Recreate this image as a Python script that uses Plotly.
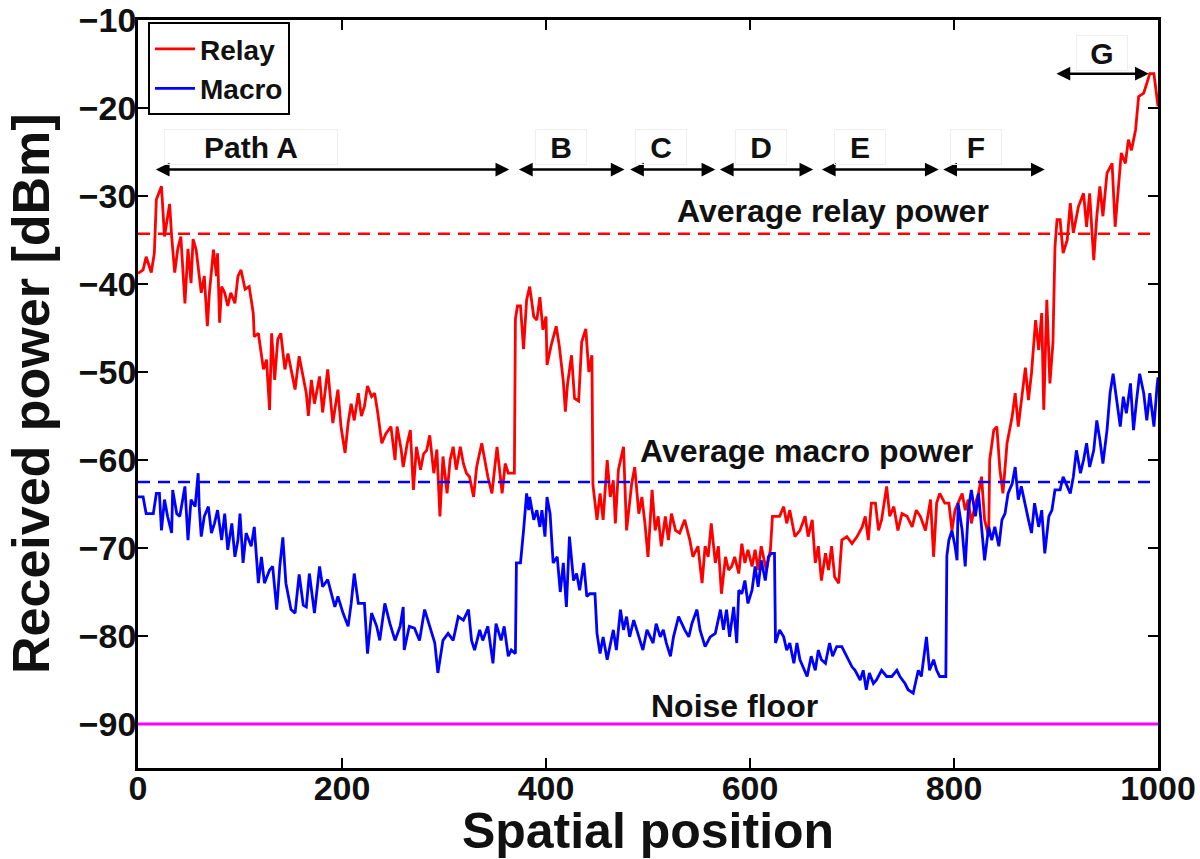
import plotly.graph_objects as go

# ---------------- data ----------------
relay_x = [0,5,8,13,16,18,23,26,31,33,
           36,39,42,46,49,52,54,57,62,65,
           68,70,74,77,78,80,82,85,88,91,
           95,98,101,105,109,113,114,118,123,126,
           129,131,134,137,140,144,147,150,154,158,
           162,165,167,170,173,178,181,186,191,196,
           199,203,206,209,212,216,219,222,225,229,
           232,235,239,243,248,252,254,258,260,264,
           267,270,273,277,280,283,286,290,293,296,
           299,303,306,309,312,316,319,322,325,329,
           332,337,340,343,347,352,357,360,363,369,
           370,372,375,378,381,384,388,391,394,397,
           400,401,405,410,413,417,419,421,425,428,
           432,435,439,442,445,446,450,453,456,460,
           463,466,468,471,476,479,484,487,491,494,
           497,500,504,507,510,513,517,520,523,527,
           531,536,541,544,549,553,556,559,562,566,
           569,572,576,579,582,585,589,592,595,598,
           602,605,608,611,616,620,622,629,633,636,
           639,644,649,654,657,661,664,667,670,674,
           677,680,683,687,690,695,700,705,710,713,
           716,719,723,726,729,734,737,741,745,749,
           754,759,763,767,772,777,780,783,786,791,
           795,798,801,804,808,811,814,817,821,824,
           827,830,834,835,839,842,845,848,852,857,
           860,863,866,870,873,876,880,883,886,888,
           891,894,897,899,901,904,907,911,914,917,
           922,927,930,933,937,940,943,946,950,955,
           958,961,964,968,971,974,978,981,986,989,
           992,996,999,1000]
relay_y = [-38.8,-38.4,-36.9,-38.7,-36.5,-30.4,-28.9,-34.6,-30.9,-34.6,
           -38.7,-36.0,-34.6,-42.2,-36.0,-39.9,-34.9,-36.1,-41.0,-39.1,
           -44.8,-41.0,-36.1,-39.1,-36.5,-44.4,-40.3,-41.0,-42.5,-41.0,
           -42.2,-39.1,-38.4,-40.6,-40.3,-43.3,-46.0,-45.6,-49.7,-48.6,
           -54.3,-45.6,-50.9,-46.3,-45.6,-49.7,-47.9,-49.7,-52.0,-48.2,
           -50.5,-52.4,-55.0,-50.9,-53.6,-50.5,-54.6,-49.7,-55.8,-52.0,
           -56.2,-59.2,-55.8,-53.6,-55.5,-52.4,-55.0,-53.9,-51.6,-52.8,
           -52.4,-54.6,-58.1,-57.0,-56.2,-60.0,-56.2,-58.8,-60.8,-58.1,
           -56.6,-63.4,-58.5,-61.1,-59.3,-58.9,-57.2,-61.5,-58.8,-66.4,
           -59.6,-63.8,-60.0,-58.5,-61.1,-58.5,-60.4,-61.5,-61.9,-64.2,
           -60.8,-58.1,-60.0,-61.9,-63.8,-58.5,-63.8,-60.4,-61.5,-61.5,
           -44.0,-42.5,-42.5,-47.4,-41.8,-40.3,-43.7,-44.1,-41.5,-45.2,
           -43.7,-49.2,-47.0,-44.8,-47.0,-51.1,-54.5,-51.5,-48.1,-53.0,
           -53.3,-46.6,-45.1,-50.0,-48.1,-62.8,-66.8,-63.8,-66.8,-60.0,
           -64.2,-62.3,-67.2,-61.1,-58.5,-68.0,-62.7,-60.8,-66.1,-64.2,
           -67.2,-71.0,-63.4,-68.0,-66.4,-69.8,-66.4,-69.1,-66.1,-68.0,
           -68.3,-66.8,-69.1,-71.0,-69.8,-74.0,-69.8,-71.0,-67.2,-71.7,
           -69.8,-75.2,-71.0,-72.5,-72.1,-71.0,-72.9,-69.5,-71.7,-70.2,
           -72.1,-70.2,-72.5,-69.8,-72.5,-70.2,-66.4,-66.4,-65.3,-67.2,
           -65.7,-68.7,-68.0,-66.4,-68.7,-66.8,-71.7,-69.8,-73.7,-70.6,
           -72.5,-69.8,-73.3,-74.0,-69.1,-68.7,-69.5,-68.7,-67.6,-66.4,
           -69.1,-64.9,-64.9,-68.0,-66.8,-63.0,-66.4,-65.3,-68.0,-66.1,
           -66.4,-67.6,-65.7,-66.4,-68.0,-64.5,-71.0,-64.9,-63.8,-64.9,
           -64.9,-68.0,-65.7,-64.9,-63.8,-65.7,-64.5,-67.2,-64.9,-63.8,
           -61.9,-66.8,-68.7,-60.0,-56.6,-56.2,-61.1,-63.8,-58.1,-55.1,
           -52.4,-56.2,-53.6,-49.5,-53.2,-50.1,-44.1,-47.5,-43.3,-54.3,
           -41.8,-51.3,-46.7,-35.8,-32.7,-32.7,-36.5,-35.0,-30.8,-34.2,
           -31.2,-29.7,-33.5,-29.7,-37.3,-32.3,-28.9,-32.3,-27.4,-26.3,
           -33.5,-28.9,-25.1,-26.3,-23.6,-24.8,-22.5,-18.7,-18.3,-17.2,
           -16.1,-16.1,-19.1,-19.8]

macro_x = [0,5,8,15,18,21,23,26,29,33,
           34,38,41,46,49,52,56,59,60,62,
           65,69,72,75,78,82,85,88,92,95,
           98,100,103,106,111,114,118,121,124,129,
           132,136,139,142,145,150,154,158,162,165,
           168,173,178,181,186,190,193,196,201,206,
           209,212,216,222,225,229,234,237,242,247,
           252,257,260,261,266,271,276,281,286,291,
           294,299,304,309,314,319,324,327,330,335,
           338,343,348,351,356,359,363,366,370,371,
           375,376,378,381,383,384,388,391,394,396,
           399,401,404,407,411,414,417,420,423,427,
           430,433,437,440,443,448,450,453,456,460,
           463,466,469,473,476,479,482,486,489,492,
           495,499,502,505,508,512,515,518,522,525,
           530,533,536,540,543,548,551,556,561,566,
           571,574,577,580,584,587,589,592,595,598,
           602,605,608,611,615,618,621,624,625,629,
           633,636,639,643,646,649,652,656,660,664,
           667,670,674,678,681,685,690,695,700,703,
           708,711,714,717,721,724,729,734,739,744,
           747,752,755,760,765,768,773,776,780,783,
           786,792,793,795,798,801,803,804,808,811,
           814,817,821,824,827,830,834,837,840,844,
           847,850,853,857,860,863,866,870,873,876,
           879,883,886,889,893,896,899,904,907,911,
           914,917,920,924,927,930,933,937,940,943,
           946,950,953,956,960,963,966,969,973,976,
           979,982,986,989,992,996,999,1000]
macro_y = [-64.2,-64.2,-66.1,-66.1,-63.8,-63.8,-68.0,-64.5,-66.4,-68.3,
           -63.4,-66.1,-66.4,-63.0,-69.1,-64.5,-65.3,-61.5,-65.3,-68.7,
           -66.4,-65.3,-68.3,-67.2,-65.7,-69.1,-66.1,-70.2,-67.2,-71.0,
           -69.1,-66.1,-71.7,-68.3,-69.8,-67.6,-74.0,-71.0,-74.0,-72.5,
           -72.1,-77.0,-72.1,-68.8,-74.0,-77.0,-77.4,-73.0,-76.5,-76.7,
           -72.9,-77.4,-72.1,-74.4,-73.6,-75.5,-76.7,-75.5,-77.4,-78.9,
           -76.3,-72.9,-76.3,-76.3,-82.0,-77.4,-78.9,-80.5,-76.3,-78.6,
           -80.5,-78.9,-76.7,-81.6,-78.9,-79.1,-80.5,-77.0,-78.9,-80.8,
           -84.2,-80.5,-79.7,-80.5,-77.8,-78.2,-77.0,-80.5,-81.6,-79.3,
           -80.5,-78.9,-83.1,-78.6,-80.5,-78.9,-82.3,-81.6,-82.0,-71.7,
           -71.7,-70.6,-68.0,-63.8,-65.7,-64.2,-66.8,-65.7,-67.6,-65.7,
           -68.7,-64.2,-66.1,-71.7,-71.0,-75.0,-71.7,-76.7,-68.7,-73.7,
           -72.9,-74.8,-71.7,-75.5,-75.2,-75.2,-79.7,-82.0,-80.1,-82.7,
           -80.8,-79.3,-81.6,-77.0,-79.3,-77.8,-80.1,-78.2,-79.3,-80.5,
           -81.6,-79.3,-80.1,-80.8,-78.6,-80.1,-79.3,-80.8,-82.3,-80.1,
           -77.8,-78.6,-79.3,-80.1,-78.6,-77.0,-79.3,-81.2,-80.1,-79.7,
           -77.0,-79.3,-77.0,-80.1,-76.7,-80.8,-74.8,-75.2,-73.7,-76.3,
           -74.8,-72.1,-74.4,-71.4,-73.7,-71.0,-70.6,-70.6,-80.8,-79.3,
           -80.1,-81.6,-80.8,-83.1,-80.8,-82.7,-83.5,-84.6,-82.3,-83.9,
           -81.6,-82.7,-83.1,-80.8,-82.3,-81.2,-81.2,-82.3,-83.5,-83.9,
           -85.0,-83.9,-86.1,-84.2,-85.4,-85.0,-83.9,-84.6,-84.6,-83.9,
           -84.6,-85.4,-86.1,-86.5,-83.9,-84.6,-80.1,-83.9,-82.7,-83.9,
           -84.6,-84.6,-70.9,-69.1,-68.0,-69.8,-71.4,-64.9,-68.0,-72.1,
           -65.7,-63.4,-66.4,-63.8,-68.0,-71.4,-67.6,-69.1,-67.6,-69.8,
           -66.8,-66.1,-63.8,-62.7,-60.8,-64.5,-63.0,-65.3,-66.8,-68.3,
           -64.9,-67.6,-65.7,-70.6,-66.4,-65.7,-63.4,-63.4,-61.9,-63.0,
           -63.8,-61.9,-58.9,-61.5,-60.0,-58.1,-60.8,-58.9,-55.5,-57.7,
           -60.4,-56.6,-52.4,-50.2,-53.6,-56.2,-52.8,-54.7,-51.3,-56.6,
           -53.2,-50.2,-52.4,-55.5,-52.4,-56.2,-51.7,-50.6]

avg_relay = -34.3
avg_macro = -62.5
noise_floor = -90.0

# segment arrows
seg_labels = ["Path A", "B", "C", "D", "E", "F", "G"]
seg_start = [16, 372, 481, 569, 669, 788, 899]
seg_end = [364, 477, 566, 662, 785, 889, 991]
seg_label_x = [111, 415, 513, 611, 708, 822, 945]
seg_arrow_y = [-27.0, -27.0, -27.0, -27.0, -27.0, -27.0, -16.1]
seg_label_y = [-24.4, -24.4, -24.4, -24.4, -24.4, -24.4, -13.8]
seg_box_w = [170, 48, 48, 48, 48, 48, 48]

FONT = "Liberation Sans, Arial, Helvetica, sans-serif"
INK = "#111111"

fig = go.Figure()
fig.add_trace(go.Scatter(x=relay_x, y=relay_y, mode="lines", name="Relay",
                         line=dict(color="#ff0000", width=2.8)))
fig.add_trace(go.Scatter(x=macro_x, y=macro_y, mode="lines", name="Macro",
                         line=dict(color="#0000ff", width=2.8)))

fig.add_shape(type="line", xref="x", yref="y", x0=0, x1=1000, y0=avg_relay, y1=avg_relay,
              line=dict(color="#ff0000", width=2.5, dash="12px,8px"))
fig.add_shape(type="line", xref="x", yref="y", x0=0, x1=1000, y0=avg_macro, y1=avg_macro,
              line=dict(color="#0000ff", width=2.5, dash="12px,8px"))
fig.add_shape(type="line", xref="x", yref="y", x0=0, x1=1000, y0=noise_floor, y1=noise_floor,
              line=dict(color="#ff00ff", width=2.8))

txt_font = dict(family=FONT, size=32, color=INK, weight="bold")
fig.add_annotation(x=681, y=-31.7, xref="x", yref="y", text="Average relay power",
                   showarrow=False, font=txt_font)
fig.add_annotation(x=655, y=-59.0, xref="x", yref="y", text="Average macro power",
                   showarrow=False, font=txt_font)
fig.add_annotation(x=585, y=-88.0, xref="x", yref="y", text="Noise floor",
                   showarrow=False, font=txt_font)

lab_font = dict(family=FONT, size=30, color=INK, weight="bold")
for lab, s, e, lx, ay, ly, bw in zip(seg_labels, seg_start, seg_end, seg_label_x,
                                      seg_arrow_y, seg_label_y, seg_box_w):
    fig.add_annotation(x=e, y=ay, ax=s, ay=ay, xref="x", yref="y", axref="x", ayref="y",
                       text="", showarrow=True, arrowhead=2, arrowside="end+start",
                       arrowsize=1.1, arrowwidth=2.5, arrowcolor="#000000")
    fig.add_annotation(x=lx, y=ly, xref="x", yref="y", text=lab, showarrow=False,
                       font=lab_font, width=bw, height=32,
                       bordercolor="#eeeeee", borderwidth=1)

# y-axis title placed as a rotated annotation so it can sit close to the page edge
fig.add_annotation(x=-0.1049, y=0.5, xref="paper", yref="paper", textangle=-90,
                   xanchor="center", yanchor="middle",
                   text="Received power [dBm]", showarrow=False,
                   font=dict(family=FONT, size=52, color=INK, weight="bold"))

axis_common = dict(showline=True, linecolor="#000000", linewidth=2.5, mirror="ticks",
                   ticks="inside", ticklen=10, tickwidth=2, tickcolor="#000000",
                   showgrid=False, zeroline=False, automargin=False,
                   ticklabeloverflow="allow",
                   tickfont=dict(family=FONT, size=34, color=INK, weight="bold"))

fig.update_layout(
    width=1200, height=859,
    margin=dict(l=138, r=42, t=20, b=91),
    paper_bgcolor="white", plot_bgcolor="white",
    font=dict(family=FONT, weight="bold"),
    xaxis=dict(range=[0, 1000], dtick=200, tick0=0, ticklabelstandoff=-12,
               title=dict(text="Spatial position", standoff=10,
                          font=dict(family=FONT, size=50, color=INK, weight="bold")),
               **axis_common),
    yaxis=dict(range=[-95, -10], dtick=10, tick0=0, ticklabelstandoff=-8,
               **axis_common),
    legend=dict(x=0.0098, y=0.997, xanchor="left", yanchor="top",
                bgcolor="white", bordercolor="#000000", borderwidth=2,
                font=dict(family=FONT, size=28, color=INK, weight="bold"),
                tracegroupgap=0, itemwidth=40),
    showlegend=True,
)

# remove the browser's default 8px page margin so the 1200x859 figure fills the window
fig.write_html("out.html", config={"displayModeBar": False},
               post_script="document.body.style.margin='0';")
